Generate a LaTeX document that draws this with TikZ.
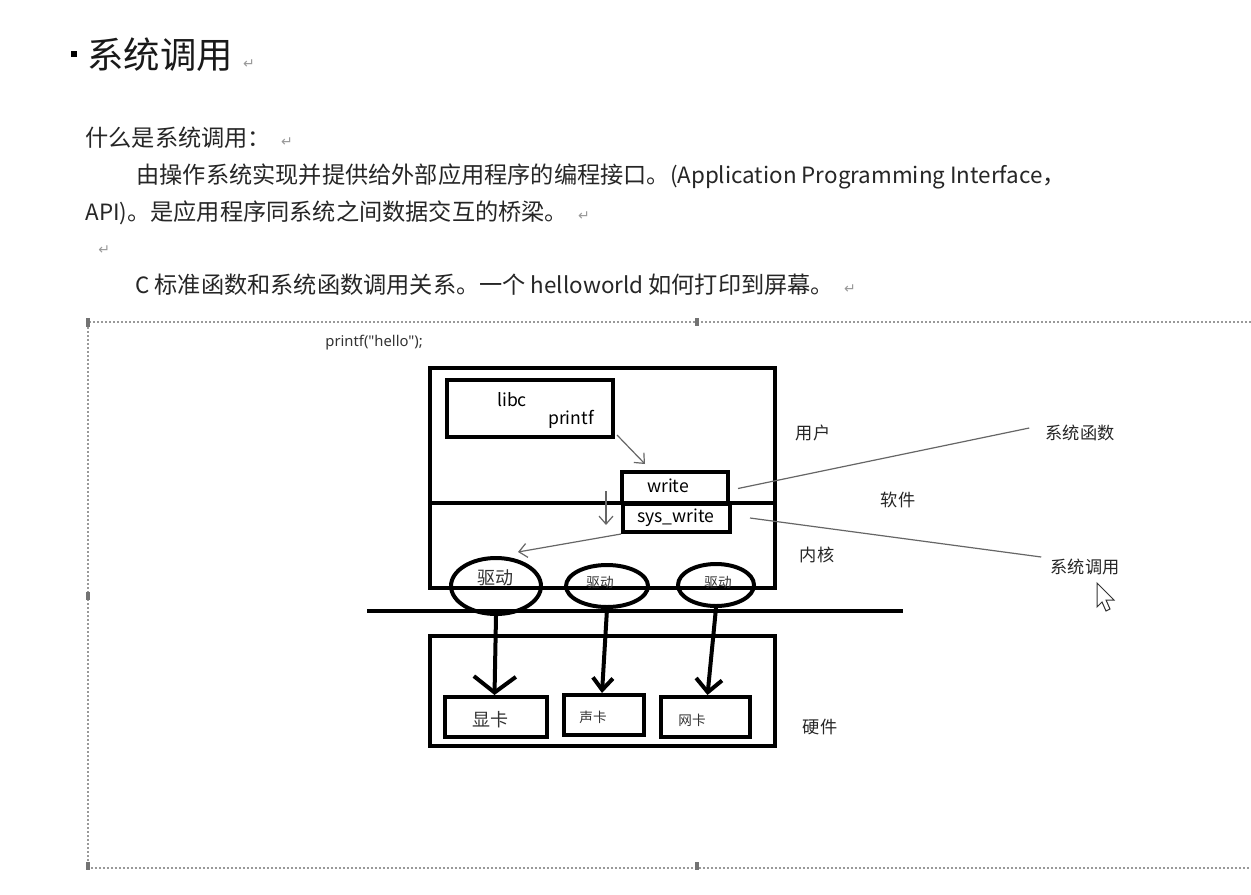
\documentclass[tikz,border=0pt]{standalone}
\usepackage{fontspec}
\setmainfont{Noto Sans CJK SC}
\newfontfamily\dvfont{DejaVu Sans}
\newfontfamily\nsans{Noto Sans}
\usetikzlibrary{arrows.meta,shapes.geometric}
\newcommand\myret{\hspace{5pt}{\dvfont\fontsize{7}{8}\selectfont\color{black!40}↵}}
\newcommand\latn[1]{{\fontsize{11.2}{12}\selectfont #1}}
\begin{document}
\begin{tikzpicture}[x=0.5pt,y=-0.5pt,
  heavy/.style={draw, line width=2pt, inner sep=0pt},
  body/.style={anchor=west, inner sep=0pt, text=black!85, font=\fontsize{11.6}{14}\selectfont},
  lab/.style={inner sep=2pt, text=black!85, font=\fontsize{8.6}{10}\selectfont},
  smalllab/.style={inner sep=0pt, text=black!80, font=\fontsize{6.8}{8}\selectfont},
  code/.style={inner sep=0pt, text=black, font=\fontsize{8.8}{10}\selectfont},
  thinline/.style={draw=black!60, line width=0.6pt},
  thinarrow/.style={draw=black!60, line width=0.6pt, -{Straight Barb[length=4pt,width=7pt]}},
  frame/.style={draw=black!40, line width=0.6pt, dash pattern=on 1.2pt off 0.8pt},
  handle/.style={fill=black!55}
]
\useasboundingbox (0,0) rectangle (1251,894);
\fill[white] (0,0) rectangle (1251,894);

% ---- header text ----
\node[fill=black, minimum size=3.2pt, inner sep=0pt] (bullet) at (74,54) {};
\node[anchor=west, inner sep=0pt, text=black!90, font=\fontsize{18.2}{20}\selectfont] (title) at (87,55) {系统调用\myret};
\node[body] (q) at (85,138) {什么是系统调用：\myret};
\node[body] (l1) at (136,176) {由操作系统实现并提供给外部应用程序的编程接口。\latn{(Application Programming Interface}，};
\node[body] (l2) at (85,213) {\latn{API)}。是应用程序同系统之间数据交互的桥梁。\myret};
\node[body] (l3) at (88,250) {\myret};
\node[body] (l4) at (135,285) {\latn{C }标准函数和系统函数调用关系。一个\latn{\ helloworld }如何打印到屏幕。\myret};

% ---- frame ----
\draw[frame] (1251,322) -- (88,322) -- (88,868) -- (1251,868);
\fill[handle] (86,318) rectangle (90,327);
\fill[handle] (695,318) rectangle (699,326);
\fill[handle] (86,592) rectangle (90,600);
\fill[handle] (86,862) rectangle (90,870);
\fill[handle] (695,862) rectangle (699,870);

\node[anchor=west, inner sep=0pt, text=black!80, font=\nsans\fontsize{7.4}{8}\selectfont] (pf) at (325,343) {printf("hello");};

% ---- OS box ----
\node[heavy, minimum width=172.5pt, minimum height=110pt] (os) at (602,478) {};
\coordinate (divL) at (430,503);
\coordinate (divR) at (776,503);
\draw[line width=2pt] (divL) -- (divR);

\node[heavy, minimum width=83pt, minimum height=28.5pt] (libc) at (530,408.5) {};
\node[code] (libct) at (512,400) {libc};
\node[code] (printft) at (571,419) {printf};

\node[heavy, minimum width=53pt, minimum height=15.5pt] (wr) at (675,487.5) {};
\node[code] (wrt) at (668,486) {write};
\node[heavy, minimum width=53.5pt, minimum height=14pt] (sw) at (676.5,518) {};
\node[code] (swt) at (676,518) {sys\_write};

\draw[thinarrow] ([shift={(1pt,2pt)}]libc.south east) -- ([shift={(-15pt,3pt)}]wr.north);
\coordinate (dA) at (606,491);
\coordinate (dB) at (606,525);
\draw[thinarrow] (dA) -- (dB);

% ---- drivers ----
\node[heavy, ellipse, minimum width=45pt, minimum height=28pt] (drv1) at (496,586) {};
\node[heavy, ellipse, minimum width=41pt, minimum height=21pt] (drv2) at (607,586) {};
\node[heavy, ellipse, minimum width=38pt, minimum height=21pt] (drv3) at (716,585) {};
\node[inner sep=0pt, text=black!80, font=\fontsize{9}{10}\selectfont] (d1t) at (495,578) {驱动};
\node[smalllab] (d2t) at (600,582) {驱动};
\node[smalllab] (d3t) at (718,582) {驱动};

\draw[thinarrow] (sw.south west) -- ([shift={(11pt,2pt)}]drv1.north);

% ---- bus ----
\coordinate (busL) at (367,611);
\coordinate (busR) at (903,611);
\draw[line width=2pt] (busL) -- (busR);

% ---- hardware ----
\node[heavy, minimum width=172.5pt, minimum height=55pt] (hw) at (602,691) {};
\node[heavy, minimum width=51pt, minimum height=20pt] (xk) at (495.5,717) {};
\node[heavy, minimum width=40pt, minimum height=20pt] (sk) at (604,715) {};
\node[heavy, minimum width=44.5pt, minimum height=20pt] (wk) at (705.5,717) {};
\node[inner sep=0pt, text=black!80, font=\fontsize{9}{10}\selectfont] (xkt) at (490,720) {显卡};
\node[smalllab] (skt) at (593,717) {声卡};
\node[smalllab] (wkt) at (692,720) {网卡};

\draw[line width=2pt, -{Straight Barb[length=8pt,width=21pt]}] (drv1.south) -- ([xshift=-0.5pt]xk.north);
\draw[line width=2pt, -{Straight Barb[length=6pt,width=10pt]}] (drv2.south) -- ([xshift=-1pt]sk.north);
\draw[line width=2pt, -{Straight Barb[length=6.5pt,width=13pt]}] (drv3.south) -- ([xshift=1pt]wk.north);

% ---- side labels ----
\node[lab] (user) at (813,433) {用户};
\node[lab] (soft) at (898,500) {软件};
\node[lab] (kern) at (817,555) {内核};
\node[lab] (hwl) at (820,727) {硬件};
\node[lab] (sf) at (1080,433) {系统函数};
\node[lab] (sc) at (1085,567) {系统调用};

\draw[thinline] ([shift={(4pt,-0.5pt)}]wr.east) -- ([shift={(-6pt,2.5pt)}]sf.west);
\draw[thinline] ([shift={(9pt,0pt)}]sw.east) -- ([shift={(-2.5pt,5pt)}]sc.west);

% ---- mouse cursor ----
\draw[fill=white, draw=black!80, line width=0.5pt] (1097,583) -- ++(0,24) -- ++(5,-5) -- ++(4,9) -- ++(4,-2) -- ++(-4,-9) -- ++(8,0) -- cycle;
\end{tikzpicture}
\end{document}
